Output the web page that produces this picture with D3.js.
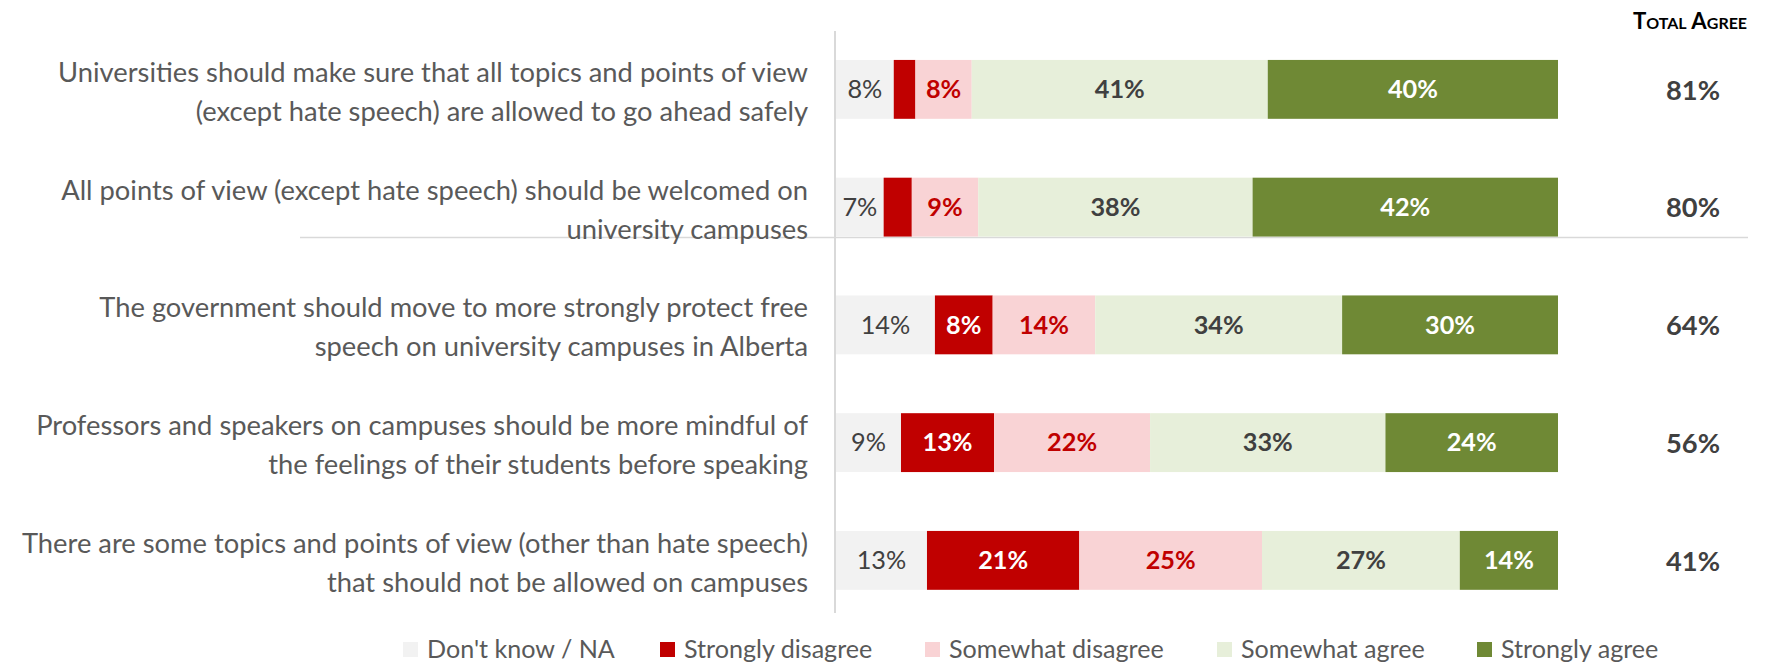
<!DOCTYPE html>
<html>
<head>
<meta charset="utf-8">
<script src="https://cdn.jsdelivr.net/npm/d3@7"></script>
<style>
  html, body { margin: 0; padding: 0; background: #fff; }
  svg { display: block; }
</style>
</head>
<body>
<svg id="chart" width="1779" height="662"></svg>
<script>
// ---------- DATA ----------
const categories = [
  "Universities should make sure that all topics and points of view (except hate speech) are allowed to go ahead safely",
  "All points of view (except hate speech) should be welcomed on university campuses",
  "The government should move to more strongly protect free speech on university campuses in Alberta",
  "Professors and speakers on campuses should be more mindful of the feelings of their students before speaking",
  "There are some topics and points of view (other than hate speech) that should not be allowed on campuses"
];
const categoryLines = [
  ["Universities should make sure that all topics and points of view", "(except hate speech) are allowed to go ahead safely"],
  ["All points of view (except hate speech) should be welcomed on", "university campuses"],
  ["The government should move to more strongly protect free", "speech on university campuses in Alberta"],
  ["Professors and speakers on campuses should be more mindful of", "the feelings of their students before speaking"],
  ["There are some topics and points of view (other than hate speech)", "that should not be allowed on campuses"]
];
const seriesNames = ["Don't know / NA", "Strongly disagree", "Somewhat disagree", "Somewhat agree", "Strongly agree"];
const dontKnow         = [8.0, 6.6, 13.7, 9.0, 12.6];
const stronglyDisagree = [3.0, 3.9, 8.0, 12.9, 21.1];
const somewhatDisagree = [7.8, 9.2, 14.2, 21.6, 25.3];
const somewhatAgree    = [41.0, 38.0, 34.2, 32.6, 27.4];
const stronglyAgree    = [40.2, 42.3, 29.9, 23.9, 13.6];
const totalAgree       = [81, 80, 64, 56, 41];
const headerText = "Total Agree";

// ---------- STYLE / LAYOUT ----------
const colors = ["#F2F2F2", "#C00000", "#F9D3D5", "#E7EFDA", "#6F8935"];
const labelColors = ["#404040", "#FFFFFF", "#C00000", "#404040", "#FFFFFF"];
const labelWeights = ["normal", "bold", "bold", "bold", "bold"];
const FONT = "Lato, 'Open Sans', sans-serif";
const legendX = [403, 660, 925, 1217, 1477];

const svg = d3.select("#chart");

function fitSize(text, weight, target, variant) {
  const t = svg.append("text").attr("font-family", FONT).attr("font-size", 100)
    .attr("font-weight", weight).style("font-variant", variant || "normal").text(text);
  const w = t.node().getComputedTextLength();
  t.remove();
  return 100 * target / w;
}

const catSize = fitSize(categoryLines[0][0], "normal", 750);
const legSize = fitSize(seriesNames[0], "normal", 188);
const valSize = fitSize("41%", "bold", 50);
const totSize = fitSize("80%", "bold", 54);
const hdrSize = fitSize(headerText, "bold", 112, "small-caps");

// ---------- SCALES ----------
const x = d3.scaleLinear().domain([0, 100]).range([836, 1558]);
const y = d3.scaleBand().domain(d3.range(categories.length))
  .range([30.5, 619.25]).paddingInner(0.5).paddingOuter(0.25);

const rows = categories.map((c, i) => ({
  idx: i,
  s0: dontKnow[i], s1: stronglyDisagree[i], s2: somewhatDisagree[i], s3: somewhatAgree[i], s4: stronglyAgree[i]
}));
const keys = ["s0", "s1", "s2", "s3", "s4"];
const stacked = d3.stack().keys(keys)(rows);

// horizontal rule under second row
svg.append("line")
  .attr("x1", 300).attr("x2", 1748)
  .attr("y1", y(1) + y.bandwidth() + 1).attr("y2", y(1) + y.bandwidth() + 1)
  .attr("stroke", "#D9D9D9").attr("stroke-width", 1.5);

// vertical axis line
svg.append("line")
  .attr("x1", x(0) - 1).attr("x2", x(0) - 1)
  .attr("y1", 31).attr("y2", 613)
  .attr("stroke", "#D9D9D9").attr("stroke-width", 2);

// bars
const layers = svg.append("g").selectAll("g").data(stacked).join("g")
  .attr("fill", (d, i) => colors[i]);
layers.selectAll("rect").data(d => d).join("rect")
  .attr("x", d => x(d[0]))
  .attr("width", d => x(d[1]) - x(d[0]))
  .attr("y", d => y(d.data.idx))
  .attr("height", y.bandwidth());

// value labels
stacked.forEach((layer, li) => {
  svg.append("g").selectAll("text").data(layer.filter(d => (d[1] - d[0]) >= 5)).join("text")
    .attr("x", d => (x(d[0]) + x(d[1])) / 2)
    .attr("y", d => y(d.data.idx) + y.bandwidth() / 2)
    .attr("dy", "0.35em")
    .attr("text-anchor", "middle")
    .attr("font-family", FONT)
    .attr("font-size", valSize)
    .attr("font-weight", labelWeights[li])
    .attr("fill", labelColors[li])
    .text(d => Math.round(d[1] - d[0]) + "%");
});

// category labels
const catG = svg.append("g");
categoryLines.forEach((lines, i) => {
  const cy = y(i) + y.bandwidth() / 2;
  const t = catG.append("text")
    .attr("x", 808).attr("text-anchor", "end")
    .attr("font-family", FONT).attr("font-size", catSize)
    .attr("fill", "#595959");
  lines.forEach((ln, k) => {
    t.append("tspan").attr("x", 808)
      .attr("y", cy + 1.5 + (k - (lines.length - 1) / 2) * 39)
      .attr("dy", "0.38em")
      .text(ln);
  });
});

// total agree
svg.append("g").selectAll("text").data(totalAgree).join("text")
  .attr("x", 1693)
  .attr("y", (d, i) => y(i) + y.bandwidth() / 2)
  .attr("dy", "0.38em")
  .attr("text-anchor", "middle")
  .attr("font-family", FONT).attr("font-size", totSize).attr("font-weight", "bold")
  .attr("fill", "#404040")
  .text(d => d + "%");

svg.append("text")
  .attr("x", 1690).attr("y", 21).attr("dy", "0.35em")
  .attr("text-anchor", "middle")
  .attr("font-family", FONT).attr("font-size", hdrSize).attr("font-weight", "bold")
  .style("font-variant", "small-caps")
  .attr("fill", "#000")
  .text(headerText);

// legend
const leg = svg.append("g");
seriesNames.forEach((name, i) => {
  const lx = legendX[i];
  leg.append("rect").attr("x", lx).attr("y", 642).attr("width", 15).attr("height", 15).attr("fill", colors[i]);
  leg.append("text").attr("x", lx + 24).attr("y", 649.5).attr("dy", "0.35em")
    .attr("font-family", FONT).attr("font-size", legSize).attr("fill", "#595959").text(name);
});
</script>
</body>
</html>
